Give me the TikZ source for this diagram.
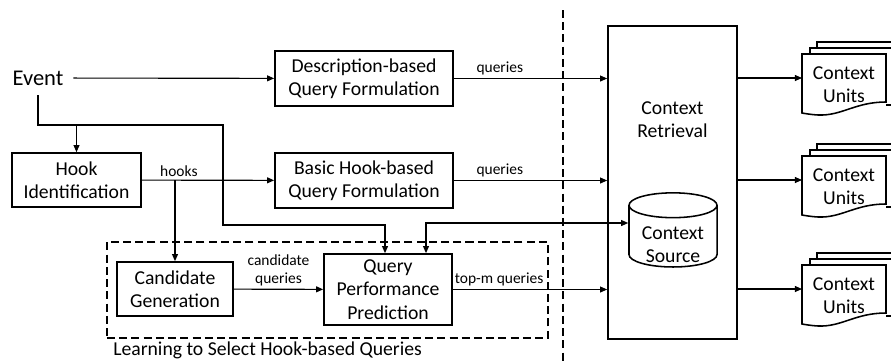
\documentclass[tikz,border=0pt]{standalone}
\usepackage{fontspec}
\setmainfont{Carlito}
\usetikzlibrary{arrows.meta,shapes.geometric}
\tikzset{
  diagram/.style={x=0.025cm,y=-0.025cm,font=\fontsize{14}{16.5}\selectfont,
    >={Triangle[length=5pt,width=4.2pt]}},
  block/.style={draw,line width=1.2pt,align=center,inner sep=0pt},
  flow/.style={->,line width=0.8pt},
  tag/.style={font=\fontsize{11}{13}\selectfont,align=center,inner sep=2pt},
  divider/.style={line width=1.4pt,dash pattern=on 5.7pt off 3pt},
  page/.style={draw,line width=1.1pt,fill=white},
}

\begin{document}
\begin{tikzpicture}[diagram]
  \clip (0,0) rectangle (891,362);

  % left column
  \node[font=\fontsize{16}{18}\selectfont,inner sep=7pt] (event) at (38,78) {Event};
  \node[block,minimum width=3.225cm,minimum height=1.35cm] (hook) at (76.5,180) {Hook\\Identification};

  % query formulation
  \node[block,minimum width=4.45cm,minimum height=1.375cm] (desc) at (364,78.5) {Description-based\\Query Formulation};
  \node[block,minimum width=4.45cm,minimum height=1.375cm] (basic) at (364,180.5) {Basic Hook-based\\Query Formulation};

  % learning to select
  \node[draw,divider,line width=1.2pt,minimum width=11.025cm,minimum height=2.4cm] (lsel) at (327.5,290) {};
  \node[anchor=base west,inner sep=0pt] (lseltxt) at (113,355) {Learning to Select Hook-based Queries};
  \node[block,minimum width=2.9cm,minimum height=1.35cm] (cand) at (175,289) {Candidate\\Generation};
  \node[block,minimum width=3.2cm,minimum height=1.775cm] (qpp) at (388,289.5) {Query\\Performance\\Prediction};

  \draw[divider] (563,10) -- (563,362);

  % retrieval
  \node[block,minimum width=3.225cm,minimum height=7.825cm] (retr) at (672.5,182.5) {};
  \node[align=center] (retrtxt) at (672.5,120) {Context\\Retrieval};
  \node[block,cylinder,shape border rotate=90,aspect=0.4,line width=1.1pt,
    minimum width=2.2cm,minimum height=1.775cm] (src) at (673,236.5)
    {\phantom{Context}\\\phantom{Source}};
  \node[align=center] (srctxt) at (673,245) {Context\\Source};

  % context units
  \foreach \n/\y in {1/78,2/180,3/289} {
    \draw[page] (817,\y-30) -- (817,\y-36) -- (900,\y-36);
    \draw[page] (810,\y-24) -- (810,\y-30) -- (900,\y-30);
    \draw[page] (886,\y+27) -- (900,\y+27);
    \draw[page] (802,\y-24) -- (886,\y-24) -- (886,\y+24)
      .. controls (855,\y+24) and (842,\y+38) .. (818,\y+37)
      .. controls (810,\y+36.5) and (805,\y+35.5) .. (802,\y+35) -- cycle;
    \node[align=center] (u\n) at (844,\y+7) {Context\\Units};
    \coordinate (cu\n) at (802,\y);
    \draw[flow] (retr.east |- cu\n) -- (cu\n);
  }

  % connectors
  \draw[flow] (event) -- (desc);
  \draw[flow] (event.south) |- (223,125) |- (385,225) -- (qpp.north -| 385,0);
  \draw[flow] (hook.north |- 0,125) -- (hook.north);
  \draw[flow] (hook) -- node[tag,above,pos=0.28] {hooks} (basic);
  \draw[flow] (cand.north |- hook.east) -- (cand);
  \draw[flow] (cand) -- node[tag,above] {candidate\\queries} (qpp);
  \draw[flow] (desc) -- node[tag,above,pos=0.3] {queries} (desc -| retr.west);
  \draw[flow] (basic) -- node[tag,above,pos=0.3] {queries} (basic -| retr.west);
  \draw[flow] (qpp) -- node[tag,above,pos=0.3] {top-m queries} (qpp -| retr.west);
  \draw[flow,<->] (src.west |- 0,223) -| (qpp.north -| 426,0);
\end{tikzpicture}
\end{document}
